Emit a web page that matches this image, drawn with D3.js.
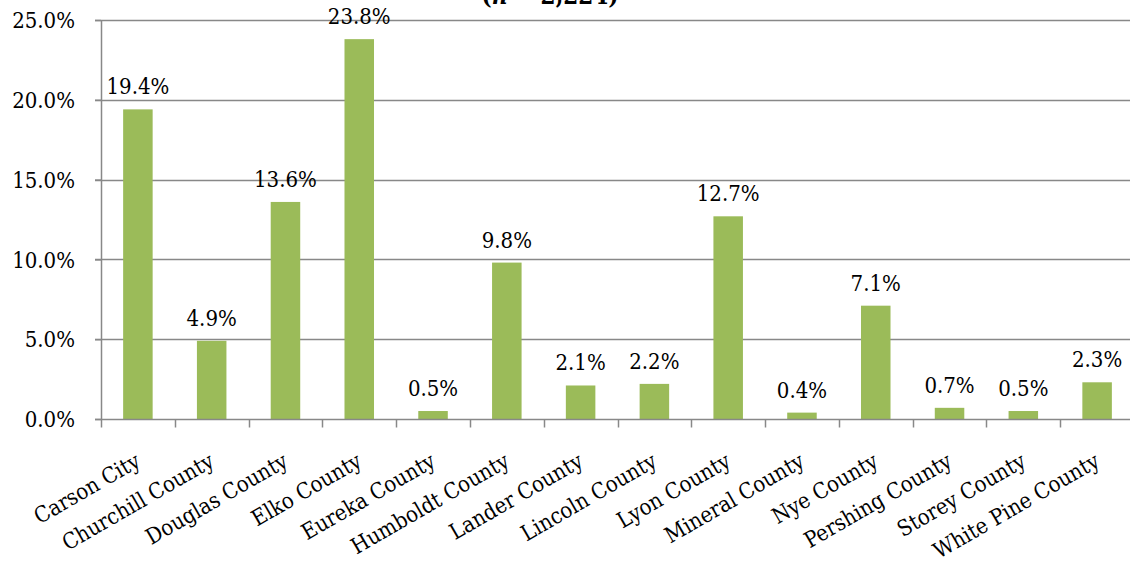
<!DOCTYPE html>
<html>
<head>
<meta charset="utf-8">
<script src="https://cdn.jsdelivr.net/npm/d3@7"></script>
<style>
  body { margin: 0; background: #fff; }
  svg { display: block; }
  svg text { font-family: "DejaVu Serif Condensed", "DejaVu Serif", serif; font-stretch: condensed; }
</style>
</head>
<body>
<svg id="chart"></svg>
<script>
// Share of respondents by county
var counties = ["Carson City", "Churchill County", "Douglas County", "Elko County", "Eureka County",
  "Humboldt County", "Lander County", "Lincoln County", "Lyon County", "Mineral County",
  "Nye County", "Pershing County", "Storey County", "White Pine County"];
var shares = [19.4, 4.9, 13.6, 23.8, 0.5, 9.8, 2.1, 2.2, 12.7, 0.4, 7.1, 0.7, 0.5, 2.3];
var yTicks = [0, 5, 10, 15, 20, 25];

var width = 1130, height = 563;
var margin = {top: 20, right: -4, bottom: 144, left: 101};

var svg = d3.select("#chart").attr("width", width).attr("height", height);

var x = d3.scaleBand()
          .domain(counties)
          .range([margin.left, width - margin.right])
          .paddingInner(0.6)
          .paddingOuter(0.3);

var xTick = d3.scaleBand()
          .domain(counties)
          .range([margin.left, width - margin.right]);

var y = d3.scaleLinear()
          .domain([0, 25])
          .range([height - margin.bottom, margin.top]);

// title (cut off at the top edge, as in the source)
var title = svg.append("text")
   .attr("x", 550)
   .attr("y", 4)
   .attr("text-anchor", "middle")
   .attr("font-size", 24)
   .attr("font-weight", "bold");
title.append("tspan").text("(");
title.append("tspan").attr("font-style", "italic").text("n");
title.append("tspan").text(" = 2,224)");

// gridlines
svg.append("g")
   .selectAll("line")
   .data(yTicks.filter(d => d > 0))
   .enter().append("line")
   .attr("x1", margin.left - 6)
   .attr("x2", width)
   .attr("y1", d => Math.round(y(d)) + 0.5)
   .attr("y2", d => Math.round(y(d)) + 0.5)
   .attr("stroke", "#888")
   .attr("stroke-width", 1.5);

// y axis
var yAxis = svg.append("g")
   .attr("transform", `translate(${margin.left},0)`)
   .call(d3.axisLeft(y).tickValues(yTicks).tickFormat(d => d.toFixed(1) + "%").tickSize(6).tickSizeOuter(0));
yAxis.select(".domain").attr("stroke", "#888").attr("stroke-width", 1.5);
yAxis.selectAll(".tick line").attr("stroke", "#888").attr("stroke-width", 1.5);
yAxis.selectAll(".tick text")
     .attr("font-size", 22)
     .attr("fill", "#000")
     .attr("x", -26)
     .attr("dy", "0.35em");

// bars
svg.selectAll(".bar")
   .data(shares)
   .enter().append("rect")
   .attr("class", "bar")
   .attr("x", (d, i) => x(counties[i]))
   .attr("y", d => y(d))
   .attr("width", x.bandwidth())
   .attr("height", d => y(0) - y(d))
   .attr("fill", "#9bbb59");

// value labels
svg.selectAll(".val")
   .data(shares)
   .enter().append("text")
   .attr("class", "val")
   .attr("x", (d, i) => x(counties[i]) + x.bandwidth() / 2)
   .attr("y", d => y(d) - 15)
   .attr("text-anchor", "middle")
   .attr("font-size", 22)
   .text(d => d.toFixed(1) + "%");

// x axis
var baseY = Math.round(y(0)) + 0.5;
svg.append("line")
   .attr("x1", margin.left - 6).attr("x2", width)
   .attr("y1", baseY).attr("y2", baseY)
   .attr("stroke", "#888").attr("stroke-width", 1.5);

svg.append("g")
   .selectAll("line")
   .data(counties)
   .enter().append("line")
   .attr("x1", d => Math.round(xTick(d)) + 0.5)
   .attr("x2", d => Math.round(xTick(d)) + 0.5)
   .attr("y1", baseY)
   .attr("y2", baseY + 8)
   .attr("stroke", "#888")
   .attr("stroke-width", 1.5);

svg.append("g")
   .selectAll("text")
   .data(counties)
   .enter().append("text")
   .attr("text-anchor", "end")
   .attr("font-size", 22)
   .attr("transform", d => `translate(${xTick(d) + xTick.bandwidth() / 2 + 4},${baseY + 46}) rotate(-30)`)
   .text(d => d);
</script>
</body>
</html>
